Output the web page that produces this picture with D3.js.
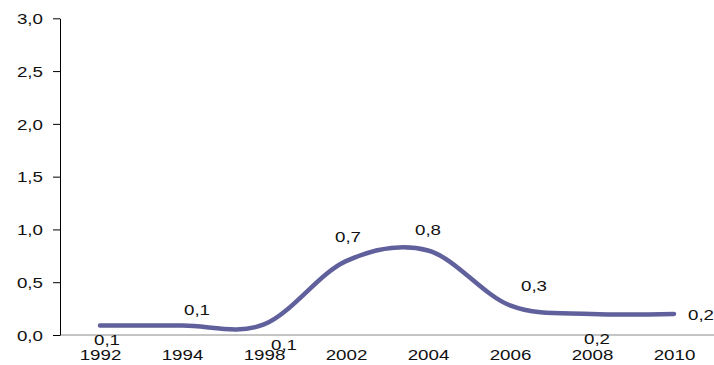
<!DOCTYPE html>
<html><head><meta charset="utf-8">
<script src="https://cdn.jsdelivr.net/npm/d3@7"></script>
<style>body{margin:0;background:#fff} text{font-family:"Liberation Sans",Arial,sans-serif;font-size:15px;fill:#111}</style>
</head><body><svg id="c" width="714" height="365"></svg>
<script>
const years = ["1992","1994","1998","2002","2004","2006","2008","2010"];
const values = [0.09,0.09,0.1,0.7,0.8,0.28,0.2,0.2];
const valueLabels = ["0,1","0,1","0,1","0,7","0,8","0,3","0,2","0,2"];
const yTicks = [0,0.5,1,1.5,2,2.5,3];
const yTickLabels = ["0,0","0,5","1,0","1,5","2,0","2,5","3,0"];
// label placement (layout only): [dx, dy baseline] relative to the point
const labelOffsets = [[7,20],[15,-10],[20,26],[2,-19],[0,-16],[24,-14],[5,30],[27,6]];

const svg = d3.select("#c");
const x = d3.scalePoint().domain(years).range([100,674]);
const y = d3.scaleLinear().domain([0,3]).range([335,18.3]);
const sx = 1.25;

// x axis line
svg.append("line").attr("x1",60).attr("x2",714).attr("y1",y(0)).attr("y2",y(0))
  .attr("stroke","#8a8a8a").attr("stroke-width",1);

// y axis
const ya = svg.append("g").attr("transform","translate(60,0)")
  .call(d3.axisLeft(y).tickValues(yTicks).tickFormat((d,i)=>yTickLabels[i]).tickSize(7).tickSizeOuter(0));
ya.select(".domain").attr("stroke","#000");
ya.selectAll(".tick line").attr("stroke","#000");
ya.selectAll(".tick text").attr("x",null).attr("dy","0.35em")
  .attr("transform",`translate(-17,0) scale(${sx},1)`).attr("text-anchor","end")
  .style("font-size","15px").style("font-family",null).attr("fill","#111");

// x axis labels
const xa = svg.append("g").attr("transform",`translate(0,${y(0)})`)
  .call(d3.axisBottom(x).tickSize(0));
xa.select(".domain").remove();
xa.selectAll(".tick text").attr("y",null).attr("dy",null)
  .attr("transform",`translate(0,25) scale(${sx},1)`)
  .style("font-size","15px").style("font-family",null).attr("fill","#111");

// line
const line = d3.line().x((d,i)=>x(years[i])).y(d=>y(d)).curve(d3.curveCardinal.tension(0));
svg.append("path").datum(values).attr("d",line).attr("fill","none")
  .attr("stroke","#60609c").attr("stroke-width",4.5).attr("stroke-linecap","round");

// data labels
svg.append("g").selectAll("text").data(values).join("text")
  .attr("text-anchor","middle")
  .attr("transform",(d,i)=>`translate(${x(years[i])+labelOffsets[i][0]},${y(d)+labelOffsets[i][1]}) scale(${sx},1)`)
  .text((d,i)=>valueLabels[i]);
</script></body></html>
